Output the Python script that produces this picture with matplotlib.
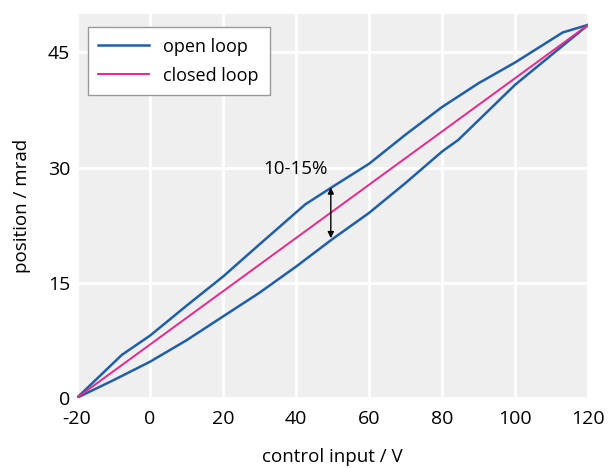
import matplotlib
matplotlib.use("Agg")
import matplotlib.pyplot as plt

plt.rcParams["font.family"] = ["Open Sans", "DejaVu Sans"]
plt.rcParams["axes.unicode_minus"] = False

# open loop hysteresis branches
up_x = [-20, -7.7, 0, 10, 20, 30, 42.5, 50, 60, 70, 80, 90, 100, 113, 120]
up_y = [0, 5.6, 8.1, 12.0, 15.8, 20.0, 25.2, 27.5, 30.5, 34.3, 37.9, 41.0, 43.7, 47.6, 48.6]
down_x = [-20, -10, 0, 10, 20, 30, 40, 50, 60, 70, 80, 84.4, 100, 120]
down_y = [0, 2.3, 4.7, 7.5, 10.6, 13.7, 17.1, 20.7, 24.1, 28.0, 32.1, 33.6, 40.8, 48.6]

# closed loop
closed_x = [-20, 120]
closed_y = [0, 48.6]

blue = "#1F5FAA"
pink = "#E8288C"

fig = plt.figure(figsize=(6.16, 4.68), dpi=100)
ax = fig.add_axes([0.125, 0.15, 0.83, 0.82])
ax.set_facecolor("#EFEFEF")

ax.plot(up_x, up_y, color=blue, lw=1.8, label="open loop")
ax.plot(down_x, down_y, color=blue, lw=1.8)
ax.plot(closed_x, closed_y, color=pink, lw=1.4, label="closed loop")

# hysteresis width arrow
ax.annotate("", xy=(49.5, 27.4), xytext=(49.5, 20.8),
            arrowprops=dict(arrowstyle="<|-|>", color="black", lw=1,
                            mutation_scale=9, shrinkA=0, shrinkB=0))
ax.text(39.7, 29.8, "10-15%", ha="center", va="center", fontsize=13.5)

ax.set_xlim(-20, 120)
ax.set_ylim(0, 50)
ax.set_xticks([-20, 0, 20, 40, 60, 80, 100, 120])
ax.set_yticks([0, 15, 30, 45])
ax.grid(True, color="white", lw=2)
ax.set_axisbelow(True)
ax.tick_params(length=0, labelsize=14)
ax.tick_params(axis="x", pad=9)
ax.tick_params(axis="y", pad=5)
for s in ax.spines.values():
    s.set_visible(False)

ax.set_xlabel("control input / V", fontsize=13.5, labelpad=14)
ax.set_ylabel("position / mrad", fontsize=13.5, labelpad=12)

leg = ax.legend(loc="upper left", fontsize=13, fancybox=False,
                edgecolor="#999999", framealpha=1, handlelength=2.8,
                borderpad=0.6, labelspacing=0.6,
                bbox_to_anchor=(0.003, 0.99))
leg.get_frame().set_linewidth(1)

plt.savefig("out.png", dpi=100)
